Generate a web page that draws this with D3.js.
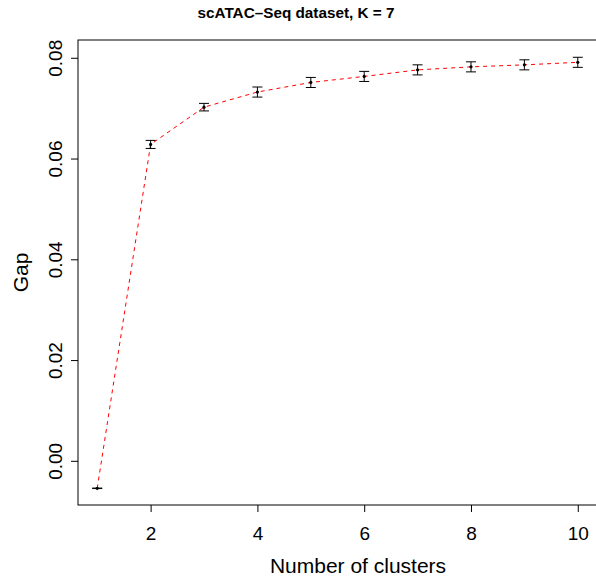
<!DOCTYPE html>
<html>
<head>
<meta charset="utf-8">
<script src="https://cdn.jsdelivr.net/npm/d3@7"></script>
<style>
  body { margin: 0; background: #fff; }
  text { font-family: "Liberation Sans", Arial, Helvetica, sans-serif; fill: #000; }
</style>
</head>
<body>
<div class="chart"></div>
<script>
// gap statistic per number of clusters
var clusters = [1, 2, 3, 4, 5, 6, 7, 8, 9, 10];
var gap = [-0.00536, 0.0629, 0.0703, 0.0733, 0.0752, 0.0764, 0.0777, 0.0783, 0.0787, 0.0792];
var se = [0.00005, 0.0008, 0.00075, 0.001, 0.001, 0.001, 0.001, 0.001, 0.001, 0.001];
var xTicks = [2, 4, 6, 8, 10];
var yTicks = [0, 0.02, 0.04, 0.06, 0.08];

var W = 596, H = 576;
var mLeft = 78, mTop = 40, mRight = 597, mBottom = 505;

var svg = d3.select(".chart").append("svg")
    .attr("width", W)
    .attr("height", H);

var x = d3.scaleLinear().domain([0.64, 10.36]).range([mLeft, mRight]);
var y = d3.scaleLinear().domain([-0.00867, 0.08363]).range([mBottom, mTop]);

// title
svg.append("text")
    .attr("x", 296)
    .attr("y", 18)
    .attr("text-anchor", "middle")
    .style("font-weight", "bold")
    .style("font-size", "15.3px")
    .text("scATAC\u2013Seq dataset, K = 7");

// box
svg.append("rect")
    .attr("x", mLeft)
    .attr("y", mTop)
    .attr("width", mRight - mLeft)
    .attr("height", mBottom - mTop)
    .attr("fill", "none")
    .attr("stroke", "#000")
    .attr("stroke-width", 1);

// x axis
var xAxis = svg.append("g")
    .attr("transform", "translate(0," + mBottom + ")")
    .call(d3.axisBottom(x).tickValues(xTicks).tickSize(7).tickPadding(15).tickFormat(d3.format("d")));
xAxis.select(".domain").remove();
xAxis.selectAll("text").style("font-size", "19px").attr("font-family", null);

// y axis
var yAxis = svg.append("g")
    .attr("transform", "translate(" + mLeft + ",0)")
    .call(d3.axisLeft(y).tickValues(yTicks).tickSize(7).tickFormat(d3.format(".2f")));
yAxis.select(".domain").remove();
yAxis.selectAll(".tick").attr("transform", null);
yAxis.selectAll(".tick line")
    .attr("y1", function (d) { return y(d); })
    .attr("y2", function (d) { return y(d); });
yAxis.selectAll(".tick text")
    .attr("x", null).attr("dy", null).attr("y", null)
    .attr("text-anchor", "middle")
    .attr("font-family", null)
    .style("font-size", "19px")
    .attr("transform", function (d) {
        return "translate(-16," + y(d) + ") rotate(-90)";
    });

// axis titles
svg.append("text")
    .attr("x", 358)
    .attr("y", 573)
    .attr("text-anchor", "middle")
    .style("font-size", "21px")
    .text("Number of clusters");

svg.append("text")
    .attr("transform", "translate(28," + (mTop + mBottom) / 2 + ") rotate(-90)")
    .attr("text-anchor", "middle")
    .style("font-size", "21px")
    .text("Gap");

// dashed red line
var line = d3.line()
    .x(function (d, i) { return x(clusters[i]); })
    .y(function (d) { return y(d); });

svg.append("path")
    .datum(gap)
    .attr("d", line)
    .attr("fill", "none")
    .attr("stroke", "#ff0000")
    .attr("stroke-width", 1)
    .attr("stroke-dasharray", "4,4");

// points
svg.selectAll("circle.pt")
    .data(gap)
    .enter()
    .append("circle")
    .attr("class", "pt")
    .attr("cx", function (d, i) { return x(clusters[i]); })
    .attr("cy", function (d) { return y(d); })
    .attr("r", 1.6)
    .attr("fill", "#000");

// error bars
var bars = svg.selectAll("g.err")
    .data(gap)
    .enter()
    .append("g")
    .attr("class", "err")
    .attr("stroke", "#000")
    .attr("stroke-width", 1);

bars.append("line")
    .attr("x1", function (d, i) { return x(clusters[i]); })
    .attr("x2", function (d, i) { return x(clusters[i]); })
    .attr("y1", function (d, i) { return y(d - se[i]); })
    .attr("y2", function (d, i) { return y(d + se[i]); });

bars.append("line")
    .attr("x1", function (d, i) { return x(clusters[i]) - 5; })
    .attr("x2", function (d, i) { return x(clusters[i]) + 5; })
    .attr("y1", function (d, i) { return y(d - se[i]); })
    .attr("y2", function (d, i) { return y(d - se[i]); });

bars.append("line")
    .attr("x1", function (d, i) { return x(clusters[i]) - 5; })
    .attr("x2", function (d, i) { return x(clusters[i]) + 5; })
    .attr("y1", function (d, i) { return y(d + se[i]); })
    .attr("y2", function (d, i) { return y(d + se[i]); });
</script>
</body>
</html>
